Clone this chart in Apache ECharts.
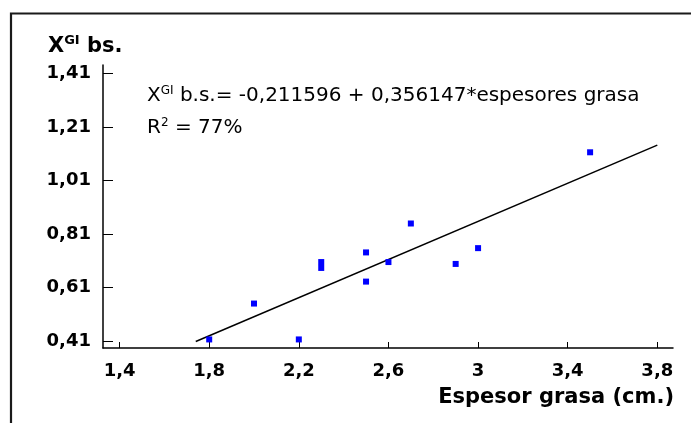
<!DOCTYPE html>
<html>
<head>
<meta charset="utf-8">
<script src="https://cdn.jsdelivr.net/npm/echarts@6/dist/echarts.min.js"></script>
<style>
  html, body { margin: 0; padding: 0; background: #fff; }
  #chart { width: 691px; height: 423px; }
</style>
</head>
<body>
<div id="chart"></div>
<script>
// Fat thickness (cm) and X^GI on dry basis for each sample
const espesor = [1.8, 2.0, 2.2, 2.3, 2.3, 2.5, 2.5, 2.6, 2.7, 2.9, 3.0, 3.5];
const xgi     = [0.416, 0.55, 0.416, 0.705, 0.683, 0.741, 0.632, 0.705, 0.849, 0.698, 0.757, 1.115];

// Fitted regression: X^GI b.s. = intercept + slope * espesor
const intercept = -0.211596;
const slope = 0.356147;
const fitRange = [1.74, 3.8];

// Tick positions on both axes
const xTicks = [1.4, 1.8, 2.2, 2.6, 3.0, 3.4, 3.8];
const yTicks = [0.41, 0.61, 0.81, 1.01, 1.21, 1.41];

const fitLine = fitRange.map(x => [x, intercept + slope * x]);
const points = espesor.map((x, i) => [x, xgi[i]]);

const fmt = v => {
  const r = Math.round(v * 100) / 100;
  return String(r).replace('.', ',');
};

const FONT = 'DejaVu Sans';
const chart = echarts.init(document.getElementById('chart'), null, { renderer: 'canvas' });

chart.setOption({
  animation: false,
  backgroundColor: '#fff',
  grid: { left: 103, right: 18, top: 65, bottom: 75, containLabel: false },
  xAxis: {
    type: 'value',
    min: 1.326,
    max: 3.87,
    axisLine: { show: true, onZero: false, lineStyle: { color: '#000', width: 1.5 } },
    axisTick: { show: true, inside: true, length: 6, customValues: xTicks, lineStyle: { color: '#000', width: 1 } },
    axisLabel: {
      customValues: xTicks,
      formatter: fmt,
      margin: 14,
      color: '#000',
      fontFamily: FONT,
      fontWeight: 'bold',
      fontSize: 18
    },
    splitLine: { show: false }
  },
  yAxis: {
    type: 'value',
    min: 0.384,
    max: 1.441,
    axisLine: { show: true, onZero: false, lineStyle: { color: '#000', width: 1.5 } },
    axisTick: { show: true, inside: true, length: 10, customValues: yTicks, lineStyle: { color: '#000', width: 1 } },
    axisLabel: {
      customValues: yTicks,
      formatter: fmt,
      margin: 12,
      color: '#000',
      fontFamily: FONT,
      fontWeight: 'bold',
      fontSize: 18
    },
    splitLine: { show: false }
  },
  series: [
    {
      type: 'line',
      data: fitLine,
      symbol: 'none',
      lineStyle: { color: '#000', width: 1.5 },
      z: 2
    },
    {
      type: 'scatter',
      data: points,
      symbol: 'rect',
      symbolSize: 6,
      itemStyle: { color: '#0000ff', opacity: 1 },
      z: 3
    }
  ],
  graphic: [
    {
      type: 'rect',
      shape: { x: 11, y: 13.5, width: 720, height: 460 },
      style: { fill: 'none', stroke: '#1a1a1a', lineWidth: 2.2 },
      silent: true
    },
    {
      type: 'text',
      left: 48,
      top: 34,
      style: {
        text: '{b|X}{sup|GI}{b| bs.}',
        rich: {
          b: { fontFamily: FONT, fontWeight: 'bold', fontSize: 21, fill: '#000', verticalAlign: 'bottom' },
          sup: { fontFamily: FONT, fontWeight: 'bold', fontSize: 13, fill: '#000', verticalAlign: 'top', padding: [0, 0, 10, 0] }
        }
      }
    },
    {
      type: 'text',
      left: 147,
      top: 85,
      style: {
        text: '{n|X}{sup|GI}{n| b.s.= -0,211596 + 0,356147*espesores grasa}',
        rich: {
          n: { fontFamily: FONT, fontSize: 20, fill: '#000' },
          sup: { fontFamily: FONT, fontSize: 12, fill: '#000', padding: [0, 0, 10, 0] }
        }
      }
    },
    {
      type: 'text',
      left: 147,
      top: 117,
      style: {
        text: '{n|R}{sup|2}{n| = 77%}',
        rich: {
          n: { fontFamily: FONT, fontSize: 20, fill: '#000' },
          sup: { fontFamily: FONT, fontSize: 12, fill: '#000', padding: [0, 0, 10, 0] }
        }
      }
    },
    {
      type: 'text',
      right: 17,
      top: 387,
      style: {
        text: 'Espesor grasa (cm.)',
        fontFamily: FONT,
        fontWeight: 'bold',
        fontSize: 21,
        fill: '#000'
      }
    }
  ]
});
</script>
</body>
</html>
